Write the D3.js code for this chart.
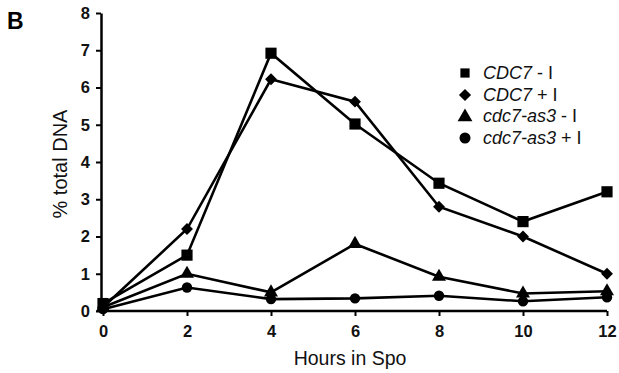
<!DOCTYPE html>
<html>
<head>
<meta charset="utf-8">
<script src="https://cdn.jsdelivr.net/npm/d3@7/dist/d3.min.js"></script>
<style>
  body { margin: 0; background: #fff; }
  svg { display: block; font-family: Arial, "Liberation Sans", Helvetica, sans-serif; }
</style>
</head>
<body>
<div id="chart"></div>
<script>
// hours in sporulation medium
const hours = [0, 2, 4, 6, 8, 10, 12];

// % total DNA per strain / inhibitor
const cdc7MinusI = [0.2, 1.5, 6.92, 5.02, 3.43, 2.4, 3.2];
const cdc7PlusI = [0.1, 2.2, 6.22, 5.62, 2.8, 2.0, 1.0];
const as3MinusI = [0.1, 1.0, 0.5, 1.8, 0.92, 0.47, 0.53];
const as3PlusI = [0.05, 0.63, 0.32, 0.34, 0.41, 0.26, 0.37];

const xTicks = [0, 2, 4, 6, 8, 10, 12];
const yTicks = [0, 1, 2, 3, 4, 5, 6, 7, 8];

const seriesNames = ["CDC7", "CDC7", "cdc7-as3", "cdc7-as3"];
const seriesSuffix = [" - I", " + I", " - I", " + I"];
const seriesSymbols = [d3.symbolSquare, d3.symbolDiamond2, d3.symbolTriangle, d3.symbolCircle];
const seriesValues = [cdc7MinusI, cdc7PlusI, as3MinusI, as3PlusI];

const width = 619, height = 373;
const margin = { top: 13, right: 12, bottom: 62, left: 103 };

const svg = d3.select("#chart").append("svg")
    .attr("width", width)
    .attr("height", height);

const x = d3.scaleLinear().domain([0, 12]).range([margin.left, width - margin.right]);
const y = d3.scaleLinear().domain([0, 8]).range([height - margin.bottom, margin.top]);

// panel letter
svg.append("text")
    .attr("x", 7)
    .attr("y", 29)
    .attr("font-size", 23)
    .attr("font-weight", "bold")
    .text("B");

// x axis
const xAxis = svg.append("g")
    .attr("transform", "translate(0," + y(0) + ")")
    .call(d3.axisBottom(x).tickValues(xTicks).tickSize(5).tickPadding(9).tickSizeOuter(0));
xAxis.select(".domain").attr("stroke", "#000").attr("stroke-width", 2.5)
    .attr("d", "M" + (x(0) - 2) + ",0H" + x(12));
xAxis.selectAll(".tick line").attr("stroke", "#000").attr("stroke-width", 2);
xAxis.selectAll(".tick text")
    .attr("font-size", 16.5).attr("font-weight", "bold").attr("fill", "#111")
    .attr("font-family", "Arial, 'Liberation Sans', sans-serif");

// y axis
const yAxis = svg.append("g")
    .attr("transform", "translate(" + (x(0) - 2) + ",0)")
    .call(d3.axisLeft(y).tickValues(yTicks).tickSize(5).tickPadding(6).tickSizeOuter(0));
yAxis.select(".domain").attr("stroke", "#000").attr("stroke-width", 2.5);
yAxis.selectAll(".tick line").attr("stroke", "#000").attr("stroke-width", 2);
yAxis.selectAll(".tick text")
    .attr("font-size", 16.5).attr("font-weight", "bold").attr("fill", "#111")
    .attr("font-family", "Arial, 'Liberation Sans', sans-serif");

// axis titles
svg.append("text")
    .attr("x", (x(0) + x(12)) / 2 - 5)
    .attr("y", 365)
    .attr("text-anchor", "middle")
    .attr("font-size", 19.5)
    .attr("fill", "#111")
    .text("Hours in Spo");

svg.append("text")
    .attr("transform", "translate(67," + 164 + ") rotate(-90)")
    .attr("text-anchor", "middle")
    .attr("font-size", 20)
    .attr("fill", "#111")
    .text("% total DNA");

// lines
const line = d3.line()
    .x((d, i) => x(hours[i]))
    .y(d => y(d));

svg.selectAll(".series")
    .data(seriesValues)
    .enter()
    .append("path")
    .attr("class", "series")
    .attr("fill", "none")
    .attr("stroke", "#000")
    .attr("stroke-width", 2.6)
    .attr("stroke-linejoin", "miter")
    .attr("d", line);

// markers
const symbolSizes = [125, 90, 85, 85];
seriesValues.forEach(function(vals, s) {
    svg.selectAll(".m" + s)
        .data(vals)
        .enter()
        .append("path")
        .attr("class", "m" + s)
        .attr("transform", (d, i) => "translate(" + x(hours[i]) + "," + y(d) + ")")
        .attr("d", d3.symbol().type(seriesSymbols[s]).size(symbolSizes[s]))
        .attr("fill", "#000");
});

// legend
const legendY = [73, 95, 116, 138];
const legend = svg.append("g");
seriesNames.forEach(function(name, s) {
    legend.append("path")
        .attr("transform", "translate(465," + (legendY[s] + (s == 2 ? 1 : 0)) + ")")
        .attr("d", d3.symbol().type(seriesSymbols[s]).size(s == 0 ? 85 : 95))
        .attr("fill", "#000");
    const t = legend.append("text")
        .attr("x", 483)
        .attr("y", legendY[s] + 6)
        .attr("font-size", 18)
        .attr("fill", "#111");
    t.append("tspan").attr("font-style", "italic").text(name);
    t.append("tspan").text(seriesSuffix[s]);
});
</script>
</body>
</html>
